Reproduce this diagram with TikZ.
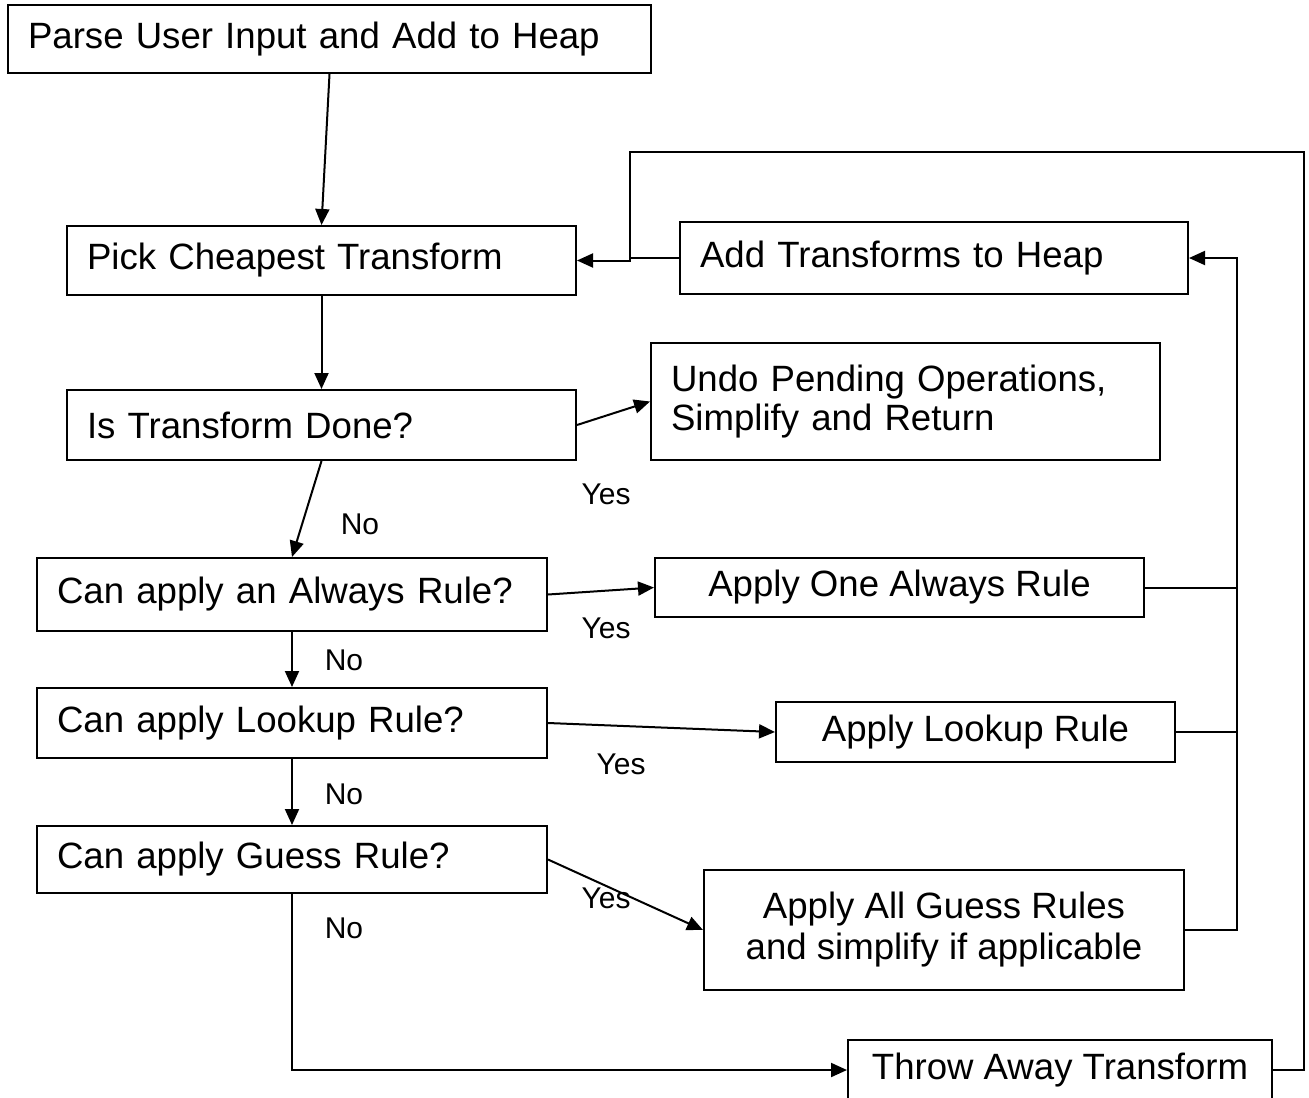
\documentclass[tikz,border=0pt]{standalone}
\usepackage{fontspec}
\setmainfont{Liberation Sans}
\usetikzlibrary{arrows.meta}

\begin{document}
\begin{tikzpicture}[x=0.5pt, y=-0.5pt, line width=1pt, >={Triangle[length=8pt,width=7pt]},
	stepbox/.style={draw, rectangle, inner xsep=10pt, inner ysep=0pt, font=\fontsize{18.3}{20.5}\selectfont},
	leftbox/.style={stepbox, align=left, text width=#1},
	midbox/.style={stepbox, align=center, minimum width=#1},
	answer/.style={font=\fontsize{15}{18}\selectfont}]
	  \useasboundingbox (0,0) rectangle (1309,1097);
	  \clip (0,0) rectangle (1309,1097);
	  \node[leftbox=301.5pt, minimum height=34pt] (parse) at (329.5,39) {Parse User Input and Add to Heap};
	  \node[leftbox=234.5pt, minimum height=34.5pt] (pick) at (321.5,260.5) {Pick Cheapest Transform};
	  \node[leftbox=234pt, minimum height=36pt] (heap) at (934,258) {Add Transforms to Heap};
	  \node[leftbox=234.5pt, minimum height=35pt] (done) at (321.5,425) {Is Transform Done?};
	  \node[leftbox=234.5pt, minimum height=58.5pt] (undo) at (905.5,401.5) {Undo Pending Operations,\\[-1pt]Simplify and Return\\[6pt]};
	  \node[leftbox=235pt, minimum height=36.5pt] (always) at (292,594.5) {Can apply an Always Rule?};
	  \node[midbox=244.5pt, minimum height=29.5pt] (applyone) at (899.5,587.5) {Apply One Always Rule};
	  \node[leftbox=235pt, minimum height=35pt] (lookup) at (292,723) {Can apply Lookup Rule?};
	  \node[midbox=199.5pt, minimum height=30pt] (applylookup) at (975.5,732) {Apply Lookup Rule};
	  \node[leftbox=235pt, minimum height=33.5pt] (guess) at (292,859.5) {Can apply Guess Rule?};
	  \node[midbox=240pt, minimum height=60pt] (applyall) at (944,930) {Apply All Guess Rules\\and simplify if applicable};
	  \node[midbox=212pt, minimum height=30pt] (throw) at (1060,1070) {Throw Away Transform};
	  \coordinate (bus) at (1237,258);
	  \coordinate (corner) at (1304,152);
	  \coordinate (joint) at (630,152);
	  \draw[->] (parse.south) -- (pick.north);
	  \draw[->] (pick.south) -- (done.north);
	  \draw[->] (done.east) -- (undo.west);
	  \draw[->] (done.south) -- (always.north);
	  \draw[->] (always.east) -- (applyone.west);
	  \draw[->] (always.south) -- (lookup.north);
	  \draw[->] (lookup.east) -- (applylookup.west);
	  \draw[->] (lookup.south) -- (guess.north);
	  \draw[->] (guess.east) -- (applyall.west);
	  \draw[->] (guess.south) |- (throw.west);
	  \draw (applyone.east) -- (applyone.east -| bus);
	  \draw (applylookup.east) -- (applylookup.east -| bus);
	  \draw[->] (applyall.east) -| (bus) -- (heap.east);
	  \draw[->] (throw.east) -| (corner) -| (joint |- pick.east) -- (pick.east);
	  \draw (heap.west) -- (heap.west -| joint);
	  \node[answer] (yesdone) at (606,494) {Yes};
	  \node[answer] (nodone) at (360,524) {No};
	  \node[answer] (yesalways) at (606,628) {Yes};
	  \node[answer] (noalways) at (344,660) {No};
	  \node[answer] (yeslookup) at (621,764) {Yes};
	  \node[answer] (nolookup) at (344,794) {No};
	  \node[answer] (yesguess) at (606,898) {Yes};
	  \node[answer] (noguess) at (344,928) {No};
	\end{tikzpicture}
\end{document}
